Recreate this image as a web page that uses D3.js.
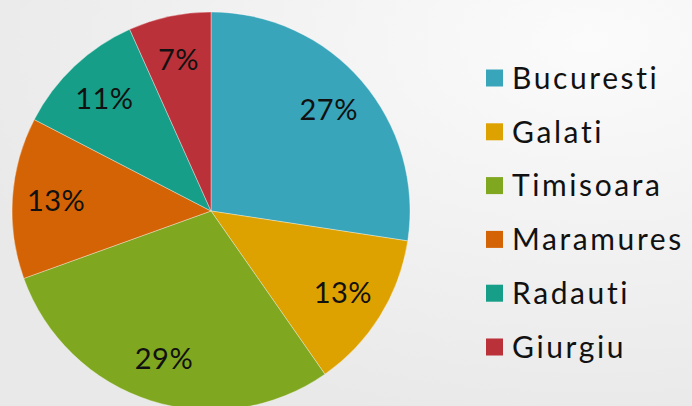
<!DOCTYPE html>
<html>
<head>
<meta charset="utf-8">
<script src="https://cdn.jsdelivr.net/npm/d3@7"></script>
<style>
  html, body { margin: 0; padding: 0; overflow: hidden; }
  svg { display: block; }
</style>
</head>
<body>
<div id="chart"></div>
<script>
// Chart data
const cities = ["Bucuresti", "Galati", "Timisoara", "Maramures", "Radauti", "Giurgiu"];
const shares = [27.4, 12.9, 29.2, 13.1, 10.7, 6.7];
const colors = ["#38a5ba", "#dea200", "#7fa71f", "#d46305", "#169e88", "#bb3139"];

const width = 692;
const height = 406;

const svg = d3.select("#chart")
    .append("svg")
    .attr("width", width)
    .attr("height", height);

// soft grey background, lighter towards the top right
const defs = svg.append("defs");
const grad = defs.append("radialGradient")
    .attr("id", "bg")
    .attr("cx", "85%").attr("cy", "10%").attr("r", "95%");
grad.append("stop").attr("offset", "0%").attr("stop-color", "#fbfbfb");
grad.append("stop").attr("offset", "100%").attr("stop-color", "#e9e9e9");

svg.append("rect")
    .attr("width", width)
    .attr("height", height)
    .attr("fill", "url(#bg)");

// Pie
const cx = 211, cy = 211, radius = 199;
const total = d3.sum(shares);

const pie = d3.pie().sort(null).value(d => d);
const arc = d3.arc().innerRadius(0).outerRadius(radius);
const labelArc = d3.arc().innerRadius(radius * 0.78).outerRadius(radius * 0.78);

const g = svg.append("g").attr("transform", `translate(${cx},${cy})`);
const arcs = pie(shares);

g.selectAll("path")
    .data(arcs)
    .join("path")
    .attr("d", arc)
    .attr("fill", (d, i) => colors[i])
    .attr("stroke", "#ffffff")
    .attr("stroke-opacity", 0.6)
    .attr("stroke-width", 0.6);

g.selectAll("text")
    .data(arcs)
    .join("text")
    .attr("transform", d => `translate(${labelArc.centroid(d)})`)
    .attr("text-anchor", "middle")
    .attr("dy", "0.36em")
    .style("font-family", "Lato, 'Noto Sans', sans-serif")
    .style("font-size", "29px")
    .style("letter-spacing", "0.5px")
    .attr("fill", "#111")
    .text(d => Math.round(d.value / total * 100) + "%");

// Legend
const legendY = d3.scalePoint()
    .domain(cities)
    .range([78, 347]);

const legend = svg.append("g");
const item = legend.selectAll("g")
    .data(cities)
    .join("g")
    .attr("transform", d => `translate(486,${legendY(d)})`);

item.append("rect")
    .attr("x", 0)
    .attr("y", -8.5)
    .attr("width", 17)
    .attr("height", 17)
    .attr("fill", (d, i) => colors[i]);

item.append("text")
    .attr("x", 26)
    .attr("dy", "0.36em")
    .style("font-family", "Lato, 'Noto Sans', sans-serif")
    .style("font-size", "30px")
    .style("letter-spacing", "2.6px")
    .attr("fill", "#111")
    .text(d => d);
</script>
</body>
</html>
